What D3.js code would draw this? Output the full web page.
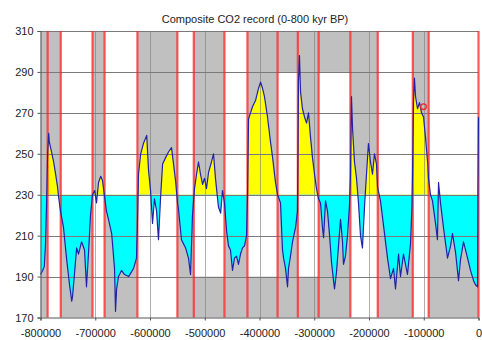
<!DOCTYPE html>
<html>
<head>
<meta charset="utf-8">
<script src="https://cdn.jsdelivr.net/npm/d3@7"></script>
<style>
  body { margin: 0; background: #fff; }
  svg { display: block; font-family: Arial, "Liberation Sans", sans-serif; }
</style>
</head>
<body>
<svg id="chart" width="482" height="340"></svg>
<script>
// composite CO2 (ppmv), years before present as negative numbers
const years = [
    -800000, -796000, -793000, -791000, -789000, -787000, -785000, -784000, -780000, -776000,
    -773000, -769000, -767000, -763500, -758000, -752500, -747000, -743000, -741600, -738000,
    -734000, -730600, -725000, -719600, -716000, -712000, -708700, -705000, -701000, -697700,
    -694000, -690000, -686800, -683000, -679500, -675800, -670000, -664800, -663000, -661000,
    -657500, -652000, -646600, -639000, -630000, -624700, -623000, -621000, -617000, -612000,
    -606000, -602700, -599000, -595400, -591800, -588000, -584500, -580800, -577000, -571700,
    -566000, -560700, -557000, -553000, -549800, -548000, -542500, -535000, -529700, -526000,
    -522400, -518700, -515000, -511400, -507800, -504000, -500500, -496800, -493000, -487700,
    -484000, -480400, -475000, -471000, -467600, -464000, -460000, -456600, -453000, -449300,
    -445700, -442000, -438400, -434700, -431000, -427400, -423700, -422000, -420000, -416400,
    -412800, -407300, -401800, -398000, -394500, -391000, -385400, -380000, -376000, -370800,
    -367000, -361600, -358000, -356000, -352500, -348800, -347000, -343400, -339700, -334200,
    -330600, -328800, -327000, -325000, -321500, -317800, -314000, -310500, -306800, -303200,
    -299500, -295900, -292200, -288600, -285000, -283000, -279400, -275800, -272000, -268500,
    -264800, -263000, -259400, -255700, -252000, -248400, -246600, -243000, -239300, -235600,
    -233800, -232000, -230000, -226500, -222800, -219200, -215500, -212000, -208000, -204600,
    -201000, -197300, -193600, -190000, -186300, -184500, -179000, -173500, -166200, -160700,
    -155200, -151600, -146000, -142500, -137000, -129700, -124200, -121500, -120500, -118700,
    -117000, -115000, -111400, -107800, -104000, -100400, -96800, -93000, -91300, -87700,
    -84000, -78500, -75000, -73000, -69400, -64000, -56600, -51000, -47500, -42000,
    -36500, -33000, -27400, -20000, -14600, -9000, -5500, -1800, -1000, 0
];
const co2 = [
    191, 193, 195, 205, 225, 250, 260, 256, 251, 246,
    241, 234, 229, 222, 214, 199, 186, 178, 180, 191,
    204, 201, 207, 203, 185, 203, 220, 230, 232, 226,
    236, 239, 237, 229, 222, 218, 211, 194, 173, 184,
    190, 193, 191, 190, 194, 199, 215, 240, 250, 255,
    259, 242, 232, 216, 228, 222, 208, 228, 245, 248,
    251, 253, 245, 236, 226, 223, 208, 204, 199, 191,
    220, 233, 240, 246, 240, 235, 238, 233, 241, 246,
    250, 238, 224, 221, 232, 226, 212, 205, 203, 193,
    199, 200, 196, 201, 204, 205, 210, 228, 267, 270,
    273, 276, 282, 285, 282, 278, 268, 256, 248, 236,
    230, 226, 203, 199, 194, 185, 194, 200, 207, 214,
    222, 285, 298, 280, 272, 268, 265, 270, 258, 248,
    240, 233, 228, 226, 214, 209, 227, 222, 210, 197,
    188, 184, 192, 205, 218, 207, 196, 200, 210, 225,
    240, 278, 262, 246, 238, 226, 210, 204, 225, 240,
    255, 246, 240, 250, 245, 234, 227, 215, 199, 189,
    194, 184, 201, 190, 201, 191, 206, 225, 240, 275,
    287, 278, 272, 275, 270, 268, 258, 246, 238, 230,
    227, 216, 208, 236, 226, 214, 199, 205, 211, 202,
    188, 198, 207, 199, 193, 188, 186, 185, 232, 268
];

// red period boundaries and background shading of each period
const edges = [-787000, -763000, -705000, -683000, -623000, -550000, -520000, -464000, -422000,
    -367000, -330000, -292000, -234000, -184000, -120000, -91000, 0];
const topGrayFrom = [230, 230, 310, 230, 310, 230, 310, 230, 310, 230, 290, 230, 290, 230, 310, 230, 310];
const bottomGrayTo = [230, 170, 230, 170, 230, 170, 230, 190, 230, 190, 230, 190, 230, 170, 230, 170, 230];

const yTicks = [170, 190, 210, 230, 250, 270, 290, 310];
const xTicks = [-800000, -700000, -600000, -500000, -400000, -300000, -200000, -100000, 0];
const marker = { year: -100400, value: 273 };
const baseline = 230;

const svg = d3.select("#chart");
let x = d3.scaleLinear().domain([-800000, 0]).range([40.5, 478.5]);
let y = d3.scaleLinear().domain([170, 310]).range([317.5, 31]);

const periods = edges.map((e, i) => ({
    start: i === 0 ? -800000 : edges[i - 1],
    end: e,
    top: topGrayFrom[i],
    bottom: bottomGrayTo[i],
}));

// gray shading
let bg = svg.append("g");
bg.selectAll("rect.top")
    .data(periods.filter((p) => p.top < 310))
    .enter()
    .append("rect")
    .attr("x", (d) => x(d.start))
    .attr("width", (d) => x(d.end) - x(d.start))
    .attr("y", y(310))
    .attr("height", (d) => y(d.top) - y(310))
    .attr("fill", "#c0c0c0");
bg.selectAll("rect.bottom")
    .data(periods.filter((p) => p.bottom > 170))
    .enter()
    .append("rect")
    .attr("x", (d) => x(d.start))
    .attr("width", (d) => x(d.end) - x(d.start))
    .attr("y", (d) => y(d.bottom))
    .attr("height", (d) => y(170) - y(d.bottom))
    .attr("fill", "#c0c0c0");

// yellow above / cyan below the 230 ppm line
const defs = svg.append("defs");
defs.append("clipPath").attr("id", "above")
    .append("rect")
    .attr("x", x(-800000)).attr("width", x(0) - x(-800000))
    .attr("y", y(310)).attr("height", y(baseline) - y(310));
defs.append("clipPath").attr("id", "below")
    .append("rect")
    .attr("x", x(-800000)).attr("width", x(0) - x(-800000))
    .attr("y", y(baseline)).attr("height", y(170) - y(baseline));

const series = years.map((yr, i) => ({ year: yr, value: co2[i] }));
let area = d3.area()
    .x((d) => x(d.year))
    .y0(y(baseline))
    .y1((d) => y(d.value));

svg.append("path")
    .datum(series)
    .attr("d", area)
    .attr("fill", "#ffff00")
    .attr("clip-path", "url(#above)");
svg.append("path")
    .datum(series)
    .attr("d", area)
    .attr("fill", "#00ffff")
    .attr("clip-path", "url(#below)");

// grid lines
let grid = svg.append("g").attr("stroke", "#7a7a7a").attr("stroke-width", 1);
grid.selectAll("line.h")
    .data(yTicks.filter((t) => t > 170))
    .enter()
    .append("line")
    .attr("x1", x(-800000))
    .attr("x2", x(0))
    .attr("y1", (d) => Math.round(y(d)) + 0.5)
    .attr("y2", (d) => Math.round(y(d)) + 0.5);
grid.selectAll("line.v")
    .data(xTicks.slice(1, -1))
    .enter()
    .append("line")
    .attr("x1", (d) => Math.round(x(d)) + 0.5)
    .attr("x2", (d) => Math.round(x(d)) + 0.5)
    .attr("y1", y(310))
    .attr("y2", y(170))
    .attr("stroke-opacity", 0.6);

// red boundaries
svg.append("g")
    .selectAll("line")
    .data(edges)
    .enter()
    .append("line")
    .attr("x1", (d) => x(d))
    .attr("x2", (d) => x(d))
    .attr("y1", y(310))
    .attr("y2", y(170))
    .attr("stroke", "#ff2020")
    .attr("stroke-opacity", 0.75)
    .attr("stroke-width", 2.2);

// CO2 line
svg.append("path")
    .datum(series)
    .attr("d", d3.line().x((d) => x(d.year)).y((d) => y(d.value)))
    .attr("fill", "none")
    .attr("stroke", "#2222a8")
    .attr("stroke-width", 1.2)
    .attr("stroke-linejoin", "round");

svg.append("circle")
    .attr("cx", x(marker.year))
    .attr("cy", y(marker.value))
    .attr("r", 2.8)
    .attr("fill", "none")
    .attr("stroke", "#ff2020")
    .attr("stroke-width", 1.3);

// axes
let yAxis = svg.append("g")
    .attr("transform", `translate(${x(-800000)},0)`)
    .call(d3.axisLeft(y).tickValues(yTicks).tickSize(3).tickPadding(4));
let xAxis = svg.append("g")
    .attr("transform", `translate(0,${y(170)})`)
    .call(d3.axisBottom(x).tickValues(xTicks).tickSize(3).tickPadding(9).tickFormat((d) => String(d)));

[yAxis, xAxis].forEach((g) => {
    g.select(".domain").attr("stroke", "#555");
    g.selectAll(".tick line").attr("stroke", "#555");
    g.selectAll("text")
        .attr("fill", "#222")
        .attr("font-size", 11)
        .attr("font-family", "Arial, 'Liberation Sans', sans-serif");
});

svg.append("text")
    .attr("x", 255)
    .attr("y", 23)
    .attr("text-anchor", "middle")
    .attr("font-size", 11)
    .attr("fill", "#222")
    .text("Composite CO2 record (0-800 kyr BP)");
</script>
</body>
</html>
